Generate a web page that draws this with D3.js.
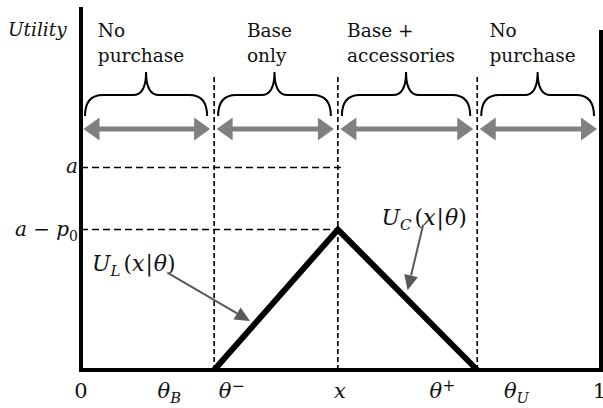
<!DOCTYPE html>
<html>
<head>
<meta charset="utf-8">
<script src="https://cdn.jsdelivr.net/npm/d3@7"></script>
<style>
  body { margin: 0; background: #fff; }
  svg { display: block; }
</style>
</head>
<body>
<script>
// Consumer utility over theta (0..1), three purchase regions
const regionLabels = [["No", "purchase"], ["Base", "only"], ["Base +", "accessories"], ["No", "purchase"]];
const regionEdges = [0, 0.256, 0.494, 0.762, 1];     // 0, theta-, x, theta+, 1
const cutPoints = [0.256, 0.494, 0.762];              // dashed verticals
const tickValues = [0, 0.17, 0.29, 0.498, 0.695, 0.838, 0.984];
const tickBase = ["0", "θ", "θ", "x", "θ", "θ", "1"];
const tickSub = ["", "B", "", "", "", "U", ""];
const tickSup = ["", "", "−", "", "+", "", ""];
const levelValues = [0.558, 0.387];                   // a, a - p0
const levelBase = ["a", "a − p"];
const levelSub = ["", "0"];
const utilityLine = [[0.256, 0], [0.494, 0.387], [0.762, 0]]; // U_L rising, U_C falling

const width = 603;
const height = 408;
const marginTop = 7;
const marginRight = 2;
const marginBottom = 38;
const marginLeft = 81;

const serif = "'DejaVu Serif', serif";
const gray = "#808080";

const x = d3.scaleLinear().domain([0, 1]).range([marginLeft, width - marginRight]);
const y = d3.scaleLinear().domain([0, 1]).range([height - marginBottom, marginTop]);

const svg = d3.create("svg")
  .attr("viewBox", [0, 0, width, height])
  .attr("width", width)
  .attr("height", height);

// attach first so getBBox works
document.body.appendChild(svg.node());

// helper: math text with italic letters and sub/superscripts
function mathLabel(g, base, sub, sup, size, upright) {
  const t = g.append("text")
    .attr("font-family", serif)
    .attr("font-size", size)
    .attr("fill", "#111");
  t.append("tspan").attr("font-style", upright ? "normal" : "italic").text(base);
  if (sub) t.append("tspan").attr("font-style", sub === "0" ? "normal" : "italic")
    .attr("font-size", size * 0.7).attr("dy", size * 0.25).text(sub);
  if (sup) t.append("tspan").attr("font-size", size * 0.75).attr("dy", -size * 0.35).text(sup);
  return t;
}

// dashed vertical cut lines
svg.append("g")
  .selectAll("line")
  .data(cutPoints)
  .join("line")
  .attr("x1", d => x(d)).attr("x2", d => x(d))
  .attr("y1", 77).attr("y2", y(0))
  .attr("stroke", "#000")
  .attr("stroke-width", 1.6)
  .attr("stroke-dasharray", "5,3");

// dashed horizontal levels
svg.append("g")
  .selectAll("line")
  .data(levelValues)
  .join("line")
  .attr("x1", x(0)).attr("x2", (d, i) => x(cutPoints[1]) + (i === 0 ? 7 : 0))
  .attr("y1", d => y(d)).attr("y2", d => y(d))
  .attr("stroke", "#000")
  .attr("stroke-width", 1.6)
  .attr("stroke-dasharray", "7,4");

// axes
svg.append("line")
  .attr("x1", x(0)).attr("x2", x(0))
  .attr("y1", y(1)).attr("y2", y(0) + 2)
  .attr("stroke", "#000").attr("stroke-width", 4);
svg.append("line")
  .attr("x1", x(0) - 2).attr("x2", width)
  .attr("y1", y(0)).attr("y2", y(0))
  .attr("stroke", "#000").attr("stroke-width", 4);
svg.append("line")
  .attr("x1", x(1)).attr("x2", x(1))
  .attr("y1", 30).attr("y2", y(0))
  .attr("stroke", "#000").attr("stroke-width", 4);

// utility curves
svg.append("path")
  .datum(utilityLine)
  .attr("d", d3.line().x(d => x(d[0])).y(d => y(d[1])))
  .attr("fill", "none")
  .attr("stroke", "#000")
  .attr("stroke-width", 6)
  .attr("stroke-linejoin", "miter");

// region arrows, braces, labels
const regions = regionLabels.map((lab, i) => ({ lab, x0: x(regionEdges[i]), x1: x(regionEdges[i + 1]) }));
const arrowY = 129;
const braceBottom = 116, braceFlat = 95, braceTip = 72;

function doubleArrow(a, b, yy) {
  const hl = 16, hw = 11.5, sw = 2.5;
  return `M${a},${yy} L${a + hl},${yy - hw} L${a + hl},${yy - sw} L${b - hl},${yy - sw} L${b - hl},${yy - hw} L${b},${yy}` +
    ` L${b - hl},${yy + hw} L${b - hl},${yy + sw} L${a + hl},${yy + sw} L${a + hl},${yy + hw} Z`;
}

function brace(a, b) {
  const m = (a + b) / 2, r = 18, q = 13;
  return `M${a},${braceBottom} Q${a},${braceFlat} ${a + r},${braceFlat} L${m - q},${braceFlat}` +
    ` Q${m},${braceFlat} ${m},${braceTip} Q${m},${braceFlat} ${m + q},${braceFlat}` +
    ` L${b - r},${braceFlat} Q${b},${braceFlat} ${b},${braceBottom}`;
}

const rg = svg.append("g").selectAll("g").data(regions).join("g");

rg.append("path")
  .attr("d", d => doubleArrow(d.x0 + 2.5, d.x1 - 4, arrowY))
  .attr("fill", gray);

rg.append("path")
  .attr("d", d => brace(d.x0 + 4, d.x1 - 7))
  .attr("fill", "none")
  .attr("stroke", "#000")
  .attr("stroke-width", 2);

rg.each(function (d) {
  const g = d3.select(this);
  const t = g.append("text")
    .attr("font-family", serif)
    .attr("font-size", 18.5)
    .attr("fill", "#111");
  d.lab.forEach((line, j) => {
    t.append("tspan").attr("x", 0).attr("y", 37 + j * 25).text(line);
  });
  const w = t.node().getBBox().width;
  const tip = (d.x0 + 4 + d.x1 - 7) / 2;
  t.attr("transform", `translate(${tip - w / 2 - 5},0)`);
});

// y label
svg.append("text")
  .attr("x", 8).attr("y", 36)
  .attr("font-family", serif)
  .attr("font-style", "italic")
  .attr("font-size", 18.5)
  .attr("fill", "#111")
  .text("Utility");

// level labels
levelValues.forEach((v, i) => {
  const t = mathLabel(svg, levelBase[i], levelSub[i], "", 20, false)
    .attr("y", y(v) + 6);
  const w = t.node().getBBox().width;
  t.attr("x", x(0) - 3 - w);
});

// bottom tick labels
tickValues.forEach((v, i) => {
  const up = tickBase[i] === "0" || tickBase[i] === "1";
  const t = mathLabel(svg, tickBase[i], tickSub[i], tickSup[i], 21, up)
    .attr("y", 398);
  const w = t.node().getBBox().width;
  t.attr("x", x(v) - (i === tickValues.length - 1 ? 0 : w / 2));
});

// curve labels with pointer arrows
function curveLabel(sub, lx, ly) {
  const t = svg.append("text")
    .attr("x", lx).attr("y", ly)
    .attr("font-family", serif)
    .attr("font-size", 22)
    .attr("fill", "#111");
  t.append("tspan").attr("font-style", "italic").text("U");
  t.append("tspan").attr("font-style", "italic").attr("font-size", 15).attr("dy", 5).text(sub);
  t.append("tspan").attr("dy", -5).attr("dx", 3).text("(");
  t.append("tspan").attr("font-style", "italic").text("x");
  t.append("tspan").attr("dx", 1).text("|");
  t.append("tspan").attr("dx", 1).attr("font-style", "italic").text("θ");
  t.append("tspan").text(")");
}

function pointer(x0, y0, x1, y1) {
  const ang = Math.atan2(y1 - y0, x1 - x0), hl = 15, hw = 7;
  const bx = x1 - hl * Math.cos(ang), by = y1 - hl * Math.sin(ang);
  svg.append("line")
    .attr("x1", x0).attr("y1", y0).attr("x2", bx).attr("y2", by)
    .attr("stroke", "#595959").attr("stroke-width", 2);
  svg.append("path")
    .attr("d", `M${x1},${y1} L${bx - hw * Math.sin(ang)},${by + hw * Math.cos(ang)} L${bx + hw * Math.sin(ang)},${by - hw * Math.cos(ang)} Z`)
    .attr("fill", "#595959");
}

curveLabel("L", x(0.021), y(0.273));
pointer(x(0.166), y(0.268), x(0.325), y(0.135));
curveLabel("C", x(0.578), y(0.4));
pointer(x(0.658), y(0.4), x(0.628), y(0.22));
</script>
</body>
</html>
